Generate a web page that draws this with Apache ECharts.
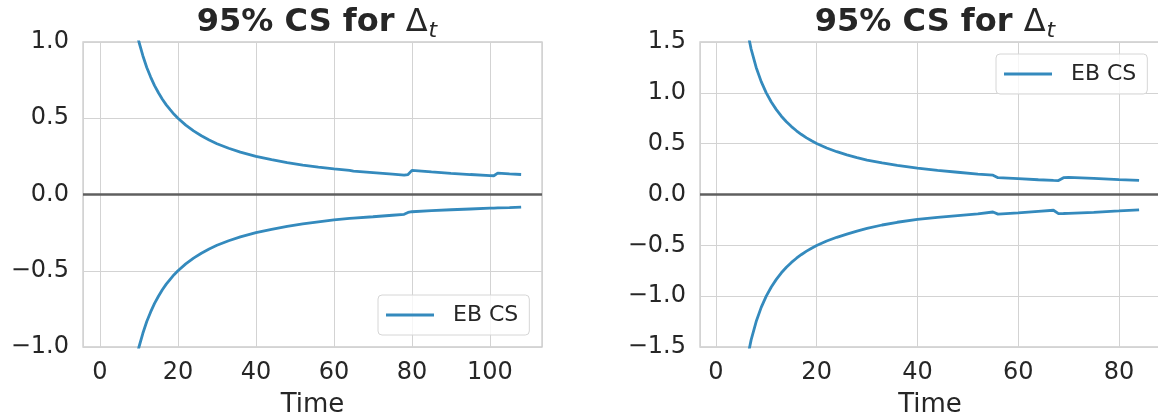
<!DOCTYPE html>
<html>
<head>
<meta charset="utf-8">
<script src="https://cdn.jsdelivr.net/npm/echarts@6/dist/echarts.min.js"></script>
<style>
html,body{margin:0;padding:0;background:#fff;}
#chart{width:1158px;height:420px;}
</style>
</head>
<body>
<div id="chart"></div>
<script>
// ---- Data ----
var titleMain = '95% CS for ';
var titleSym = '\u0394';
var titleSub = 't';
var xName = 'Time';
var legendName = 'EB CS';

// Left panel
var tLeft = [4,5,6,7,8,9,10,11,12,13,14,15,16,17,18,19,20,22,24,26,28,30,33,36,40,44,48,52,56,60,64,65,70,75,78,79,80,85,90,95,100,101,102,105,108];
var upperLeft = [2.5,2.0,1.667,1.43,1.25,1.11,1.0,0.91,0.833,0.77,0.714,0.667,0.625,0.588,0.556,0.526,0.5,0.455,0.417,0.385,0.357,0.333,0.303,0.278,0.25,0.228,0.209,0.193,0.179,0.168,0.158,0.153,0.143,0.133,0.127,0.131,0.158,0.148,0.139,0.131,0.124,0.123,0.140,0.135,0.131];
var lowerLeft = [-2.5,-2.0,-1.667,-1.43,-1.25,-1.11,-1.0,-0.91,-0.833,-0.77,-0.714,-0.667,-0.625,-0.588,-0.556,-0.526,-0.5,-0.455,-0.417,-0.385,-0.357,-0.333,-0.303,-0.278,-0.25,-0.228,-0.209,-0.193,-0.179,-0.166,-0.157,-0.155,-0.146,-0.136,-0.130,-0.118,-0.113,-0.106,-0.100,-0.095,-0.090,-0.089,-0.088,-0.086,-0.083];

// Right panel
var tRight = [4,5,6,7,8,9,10,11,12,13,14,15,16,17,18,19,20,22,24,26,28,30,33,36,40,44,48,52,55,56,60,64,67,68,69,70,75,80,84];
var upperRight = [2.5,2.0,1.67,1.43,1.25,1.11,1.0,0.91,0.835,0.77,0.715,0.668,0.627,0.59,0.557,0.528,0.502,0.458,0.421,0.39,0.363,0.339,0.31,0.286,0.26,0.238,0.219,0.2,0.19,0.165,0.157,0.145,0.138,0.137,0.165,0.168,0.158,0.146,0.138];
var lowerRight = [-2.5,-2.0,-1.67,-1.43,-1.25,-1.11,-1.0,-0.91,-0.835,-0.77,-0.715,-0.668,-0.627,-0.59,-0.557,-0.528,-0.502,-0.458,-0.421,-0.39,-0.36,-0.334,-0.3,-0.273,-0.245,-0.225,-0.207,-0.19,-0.172,-0.193,-0.18,-0.165,-0.155,-0.188,-0.187,-0.185,-0.175,-0.162,-0.151];

// Axis ranges
var xRangeLeft = [-4.35, 113.35];
var xRangeRight = [-3.15, 88.15];
var yRangeLeft = [-1, 1];
var yRangeRight = [-1.5, 1.5];

function pairs(xs, ys) { return xs.map(function (x, i) { return [x, ys[i]]; }); }

var FONT = 'DejaVu Sans';
var TXT = '#262626';
var BLUE = '#348ABD';
var GRIDC = '#d3d3d3';

function fmtY(v) {
  var s = Math.abs(v).toFixed(1);
  return (v < 0 ? '\u2212' : '') + s;
}
function fmtX(v) {
  var r = Math.round(v);
  if (Math.abs(v - r) > 1e-6 || r % 20 !== 0) return '';
  return String(r);
}

function xAxisCfg(idx, range) {
  return {
    type: 'value', gridIndex: idx, min: range[0], max: range[1], splitNumber: 5,
    name: xName, nameLocation: 'middle', nameGap: 45,
    nameTextStyle: { fontFamily: FONT, fontSize: 26, color: TXT },
    axisLine: { show: false }, axisTick: { show: false },
    axisLabel: { fontFamily: FONT, fontSize: 24, color: TXT, margin: 14, showMinLabel: false, showMaxLabel: false,
      formatter: fmtX },
    splitLine: { show: true, lineStyle: { color: GRIDC, width: 1 } }
  };
}
function yAxisCfg(idx, range) {
  return {
    type: 'value', gridIndex: idx, min: range[0], max: range[1], interval: 0.5,
    axisLine: { show: false }, axisTick: { show: false },
    axisLabel: { fontFamily: FONT, fontSize: 24, color: TXT, margin: 14, formatter: fmtY },
    splitLine: { show: true, lineStyle: { color: GRIDC, width: 1 } }
  };
}
function lineSeries(idx, data, withZero) {
  var s = {
    type: 'line', name: legendName, xAxisIndex: idx, yAxisIndex: idx, data: data,
    showSymbol: false, symbol: 'none', clip: true, smooth: false,
    lineStyle: { color: BLUE, width: 2.8 }, itemStyle: { color: BLUE }, z: 3,
    animation: false
  };
  if (withZero) {
    s.markLine = {
      silent: true, symbol: ['none', 'none'], label: { show: false },
      lineStyle: { color: '#5f5f5f', width: 2.6, type: 'solid' },
      data: [{ yAxis: 0 }], animation: false, z: 2
    };
  }
  return s;
}
function titleCfg(x) {
  return {
    text: '{m|' + titleMain + '}{d|' + titleSym + '}{s|' + titleSub + '}',
    left: x, top: 0, textAlign: 'center',
    textStyle: {
      rich: {
        m: { fontFamily: FONT, fontSize: 32, fontWeight: 'bold', color: TXT, lineHeight: 36 },
        d: { fontFamily: FONT, fontSize: 32, fontWeight: 'normal', color: TXT, lineHeight: 36 },
        s: { fontFamily: FONT, fontSize: 22, fontStyle: 'italic', fontWeight: 'normal', color: TXT, lineHeight: 22, padding: [16, 0, 0, 1] }
      }
    }
  };
}
function legendCfg(left, top) {
  return {
    data: [legendName], left: left, top: top, orient: 'vertical',
    icon: 'rect', itemWidth: 48, itemHeight: 3,
    backgroundColor: 'rgba(255,255,255,0.8)', borderColor: '#d6d6d6', borderWidth: 1, borderRadius: 4,
    padding: [9, 11, 9, 8],
    textStyle: { fontFamily: FONT, fontSize: 22, color: TXT, lineHeight: 22, padding: [0, 0, 0, 14] },
    selectedMode: false
  };
}

var chart = echarts.init(document.getElementById('chart'), null, { renderer: 'canvas' });
chart.setOption({
  backgroundColor: '#ffffff',
  animation: false,
  title: [titleCfg(312), titleCfg(930)],
  legend: [legendCfg(378, 295), legendCfg(996, 54)],
  grid: [
    { left: 83, top: 42, width: 459, height: 305, show: true, borderColor: '#cccccc', borderWidth: 1.3, backgroundColor: '#fff', containLabel: false, outerBoundsMode: 'none' },
    { left: 700, top: 42, width: 460, height: 305, show: true, borderColor: '#cccccc', borderWidth: 1.3, backgroundColor: '#fff', containLabel: false, outerBoundsMode: 'none' }
  ],
  xAxis: [xAxisCfg(0, xRangeLeft), xAxisCfg(1, xRangeRight)],
  yAxis: [yAxisCfg(0, yRangeLeft), yAxisCfg(1, yRangeRight)],
  series: [
    lineSeries(0, pairs(tLeft, upperLeft), true),
    lineSeries(0, pairs(tLeft, lowerLeft), false),
    lineSeries(1, pairs(tRight, upperRight), true),
    lineSeries(1, pairs(tRight, lowerRight), false)
  ]
});
</script>
</body>
</html>
